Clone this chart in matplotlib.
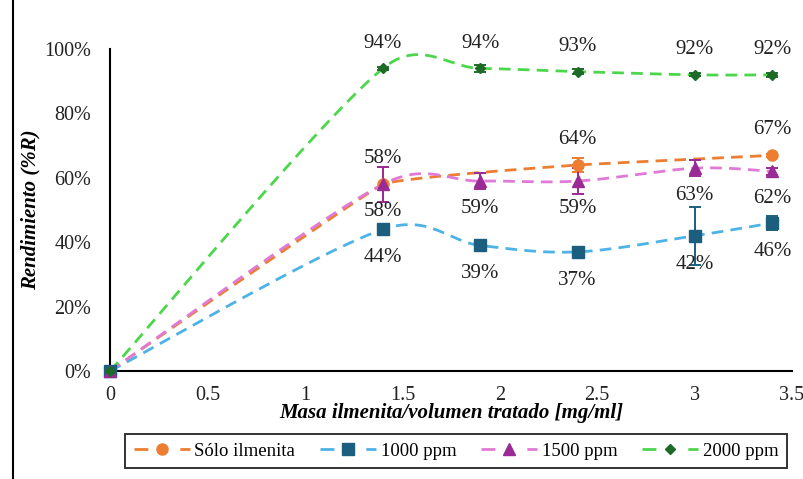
#!/usr/bin/env python
# -*- coding: utf-8 -*-

import numpy as np
import matplotlib
matplotlib.use('Agg')
import matplotlib.pyplot as plt
from matplotlib.lines import Line2D
from matplotlib.ticker import PercentFormatter

plt.rcParams["font.family"] = ["Liberation Serif", "DejaVu Serif"]

# 数据
x_solo = [0, 1.4, 2.4, 3.4]
y_solo = [0, 58, 64, 67]
e_solo = [0, 5.5, 2.3, 0.5]

x_ppm = [0, 1.4, 1.9, 2.4, 3.0, 3.4]
y_1000 = [0, 44, 39, 37, 42, 46]
e_1000 = [0, 0.5, 0.5, 0.5, 9, 2.3]
y_1500 = [0, 58, 59, 59, 63, 62]
e_1500 = [0, 5.5, 2.5, 4, 2.5, 1]
y_2000 = [0, 94, 94, 93, 92, 92]
e_2000 = [0, 0.5, 1, 0.7, 0.5, 0.7]

series_names = ["Sólo ilmenita", "1000 ppm", "1500 ppm", "2000 ppm"]
x_ticks = [0, 0.5, 1, 1.5, 2, 2.5, 3, 3.5]
y_ticks = [0, 20, 40, 60, 80, 100]


def smooth(ax, xs, ys, k=1.0, n=50):
    """类似Excel的平滑曲线：Bezier控制点，长度限制为半个线段（在屏幕坐标中计算）"""
    pts = ax.transData.transform(np.column_stack([xs, ys]).astype(float))
    out = []
    m = len(pts)
    for i in range(m - 1):
        p0 = pts[i - 1] if i > 0 else pts[i]
        p1 = pts[i]
        p2 = pts[i + 1]
        p3 = pts[i + 2] if i + 2 < m else pts[i + 1]
        d12 = np.hypot(*(p2 - p1))
        d02 = max(np.hypot(*(p2 - p0)), 1e-9)
        d13 = max(np.hypot(*(p3 - p1)), 1e-9)
        f0 = min(1 / 6, d12 / 2 / d02) * k
        f1 = min(1 / 6, d12 / 2 / d13) * k
        c1 = p1 + (p2 - p0) * f0
        c2 = p2 - (p3 - p1) * f1
        t = np.linspace(0, 1, n)[:, None]
        seg = ((1 - t) ** 3) * p1 + 3 * ((1 - t) ** 2) * t * c1 + 3 * (1 - t) * t ** 2 * c2 + t ** 3 * p2
        out.append(seg if i == 0 else seg[1:])
    seg = ax.transData.inverted().transform(np.vstack(out))
    return seg[:, 0], seg[:, 1]


fig = plt.figure(figsize=(8.04, 4.79), dpi=100)
ax = fig.add_axes([0.137, 0.2255, 0.848, 0.672])
ax.set_xlim(0, 3.5)
ax.set_ylim(0, 100)

dash = (0, (4.2, 2.6))
leg_dash = (0, (5.0, 11.5))
specs = [
    (x_solo, y_solo, e_solo, "#ED7D31", "#ED7D31", "o", 8, 0.2, series_names[0]),
    (x_ppm, y_1000, e_1000, "#4DB3E6", "#1B5E7E", "s", 8, 1.0, series_names[1]),
    (x_ppm, y_1500, e_1500, "#E07AD6", "#9A2B96", "^", 8, 1.0, series_names[2]),
    (x_ppm, y_2000, e_2000, "#4CD64C", "#1E6B28", "D", 5.5, 1.0, series_names[3]),
]

handles = []
for xs, ys, es, lc, mc, mk, ms, k, name in specs:
    sx, sy = smooth(ax, xs, ys, k)
    ax.plot(sx, sy, color=lc, lw=2.0, linestyle=dash, zorder=2, clip_on=False)
    ax.errorbar(xs, ys, yerr=es, fmt=mk, color=mc, ms=ms, ecolor=mc,
                elinewidth=1.4, capsize=4, capthick=1.4, zorder=3, clip_on=False)
    handles.append(Line2D([0], [0], color=lc, lw=2.0, linestyle=leg_dash,
                          marker=mk, markersize=ms, markerfacecolor=mc,
                          markeredgecolor=mc, label=name))

# 数据标签
lab_kw = dict(textcoords="offset points", ha="center", va="center", fontsize=15, color="#222222")
for xv, yv in zip(x_ppm[1:], y_2000[1:]):
    ax.annotate(f"{yv}%", (xv, yv), xytext=(0, 18), **lab_kw)
for xv, yv in zip(x_solo[1:], y_solo[1:]):
    ax.annotate(f"{yv}%", (xv, yv), xytext=(0, 18.5), **lab_kw)
for xv, yv in zip(x_ppm[1:], y_1500[1:]):
    ax.annotate(f"{yv}%", (xv, yv), xytext=(0, -19.5), **lab_kw)
for xv, yv in zip(x_ppm[1:], y_1000[1:]):
    ax.annotate(f"{yv}%", (xv, yv), xytext=(0, -20.5), **lab_kw)

ax.set_xticks(x_ticks)
ax.set_xticklabels([f"{v:g}" for v in x_ticks])
ax.set_yticks(y_ticks)
ax.yaxis.set_major_formatter(PercentFormatter(decimals=0))
ax.tick_params(length=0, labelsize=14.5, colors="#222222")
ax.tick_params(axis="x", pad=10.5)
ax.tick_params(axis="y", pad=13.5)
for side in ["top", "right"]:
    ax.spines[side].set_visible(False)
for side in ["left", "bottom"]:
    ax.spines[side].set_linewidth(1.5)
    ax.spines[side].set_color("black")

ax.set_xlabel("Masa ilmenita/volumen tratado [mg/ml]", fontsize=15,
              fontweight="bold", fontstyle="italic", labelpad=-1)
ax.set_ylabel("Rendimiento (%R)", fontsize=15, fontweight="bold",
              fontstyle="italic", labelpad=3)

leg = fig.legend(handles=handles, loc="center", bbox_to_anchor=(0.567, 0.058),
                 ncol=4, fontsize=13.5, frameon=True, fancybox=False,
                 edgecolor="black", handlelength=3.0, columnspacing=1.3,
                 handletextpad=0.25, borderpad=0.45)
leg.get_frame().set_linewidth(1.4)

# 图框左边线
fig.add_artist(Line2D([13 / 804, 13 / 804], [0, 1], transform=fig.transFigure,
                      color="black", lw=1.5))

fig.savefig("out.png", dpi=100)
